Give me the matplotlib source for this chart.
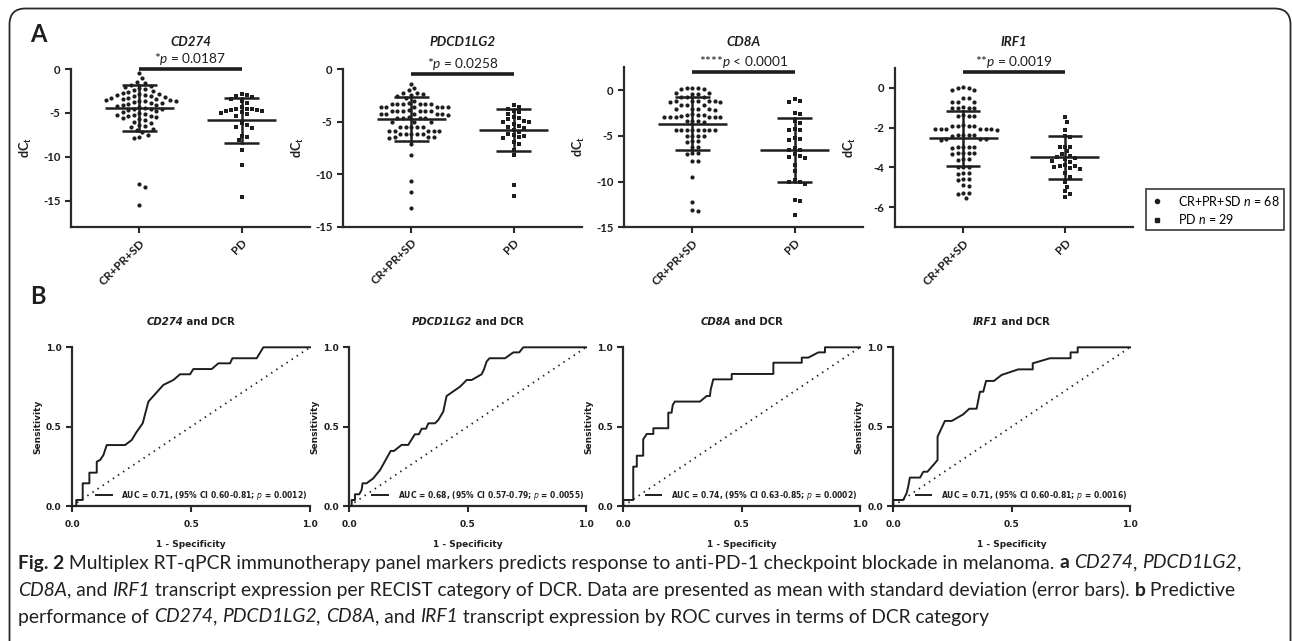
import numpy as np
import matplotlib
matplotlib.use("Agg")
import matplotlib.pyplot as plt
from matplotlib.patches import FancyBboxPatch
from matplotlib.lines import Line2D

plt.rcParams["font.family"] = ["Lato", "DejaVu Sans"]
plt.rcParams["mathtext.fontset"] = "custom"
plt.rcParams["mathtext.rm"] = "Lato"
plt.rcParams["mathtext.it"] = "Lato:italic"
plt.rcParams["mathtext.bf"] = "Lato:bold"

W, H = 1292, 641
INK = "#1e1e1e"

# ---------------- data ----------------
genes = ["CD274", "PDCD1LG2", "CD8A", "IRF1"]
groups = ["CR+PR+SD", "PD"]
p_stars = ["*", "*", "****", "**"]
p_text = ["= 0.0187", "= 0.0258", "< 0.0001", "= 0.0019"]

cd274_resp = [-0.5, -1.05, -1.5, -1.6, -1.8, -1.9, -2.0, -2.2, -2.3, -2.4,
              -2.6, -2.7, -2.8, -2.9, -3.0, -3.0, -3.1, -3.2, -3.3, -3.3,
              -3.4, -3.4, -3.5, -3.5, -3.6, -3.7, -3.8, -3.9, -3.9, -4.0,
              -4.1, -4.2, -4.3, -4.4, -4.5, -4.6, -4.7, -4.8, -4.9, -5.0,
              -5.1, -5.2, -5.3, -5.4, -5.6, -5.7, -5.8, -6.0, -6.2, -6.4,
              -6.5, -6.6, -6.8, -7.0, -7.2, -7.5, -7.8, -7.9,
              -2.5, -3.1, -3.6, -4.1, -4.6, -5.2, -5.5, -13.1, -13.4, -15.5]
cd274_pd = [-2.9, -3.0, -3.1, -3.2, -3.4, -3.7, -3.9, -4.3, -4.5, -4.6,
            -4.6, -4.7, -4.7, -4.8, -4.8, -4.9, -5.0, -5.1, -5.3, -6.2,
            -6.4, -6.6, -6.7, -7.6, -7.8, -8.1, -9.2, -10.9, -14.6]

pdcd_resp = [-1.4, -1.85, -2.0, -2.3, -2.3, -2.4, -2.5, -2.6, -2.8, -3.0,
             -3.25, -3.3, -3.3, -3.3, -3.3, -3.35, -3.3,
             -3.6, -3.6, -3.65, -3.6, -3.6, -3.6,
             -3.95, -3.95, -3.9, -4.0, -3.95, -3.95, -3.95,
             -4.3, -4.3, -4.3, -4.35, -4.3, -4.3,
             -4.65, -4.65, -4.6, -4.65, -4.65,
             -5.0, -5.0, -5.05,
             -5.5, -5.5, -5.5, -5.55, -5.5,
             -5.85, -5.85, -5.85, -5.9, -5.85,
             -6.15, -6.15, -6.2, -6.15, -6.15,
             -6.5, -6.5, -6.55, -6.5,
             -7.1, -8.2, -10.7, -11.7, -13.2]
pdcd_pd = [-3.4, -3.6, -3.8, -4.0, -4.1, -4.3, -4.6, -4.7, -4.8, -4.9,
           -5.0, -5.0, -5.2, -5.4, -5.5, -5.6, -5.8, -6.0, -6.2, -6.3,
           -6.4, -6.5, -6.6, -6.9, -7.1, -7.7, -8.2, -11.0, -12.1]

cd8a_resp = [0.25, 0.2, 0.2, 0.15, 0.1,
             -0.3, -0.3, -0.35, -0.4,
             -0.7, -0.75, -0.7,
             -1.2, -1.2, -1.25, -1.2, -1.15, -1.2, -1.25,
             -1.6, -1.6, -1.65,
             -2.1, -2.1, -2.05, -2.1, -2.15,
             -2.7, -2.7, -2.65, -2.7,
             -2.9, -2.9, -2.95, -2.9, -2.9, -2.85, -2.9,
             -3.4, -3.4, -3.45, -3.4,
             -4.35, -4.35, -4.3, -4.4, -4.35, -4.35, -4.3, -4.4,
             -5.0, -5.0, -5.05, -5.0,
             -5.6, -5.6, -5.65,
             -6.2, -6.2,
             -6.9, -6.85, -6.95,
             -7.8, -7.8,
             -9.55, -12.3, -13.1, -13.2]
cd8a_pd = [-0.9, -1.2, -1.3, -2.5, -2.6, -3.4, -3.6, -4.2, -4.3, -4.4,
           -5.2, -5.3, -5.5, -6.3, -6.5, -6.6, -7.2, -7.3, -7.4, -8.2,
           -8.9, -9.8, -10.0, -10.1, -10.3, -12.0, -12.1, -13.7, -7.0]

irf1_resp = [0.02, 0.0, -0.02, -0.1, -0.1,
             -0.5, -0.5, -0.7, -0.7, -0.72,
             -1.0, -1.0, -1.02, -1.0, -0.98,
             -1.4, -1.4, -1.42, -1.38,
             -1.9, -1.9, -1.88, -1.9, -1.92,
             -2.1, -2.1, -2.1, -2.12, -2.08, -2.1, -2.1,
             -2.4, -2.4, -2.42, -2.38, -2.4,
             -2.6, -2.6, -2.62, -2.6,
             -3.0, -3.0, -2.98, -3.0, -3.02,
             -3.3, -3.3, -3.32, -3.3, -3.28,
             -3.6, -3.6, -3.62,
             -4.0, -4.0, -3.98,
             -4.3, -4.3, -4.32,
             -4.6, -4.6, -4.62,
             -4.9, -4.92,
             -5.3, -5.3, -5.32, -5.55]
irf1_pd = [-1.46, -1.7, -2.13, -2.45, -2.5, -2.96, -2.98, -3.0, -3.2, -3.35,
           -3.45, -3.5, -3.55, -3.6, -3.7, -3.75, -3.9, -3.95, -3.95, -4.0,
           -4.05, -4.1, -4.3, -4.5, -4.72, -4.97, -5.2, -5.35, -5.48]

resp_vals = [cd274_resp, pdcd_resp, cd8a_resp, irf1_resp]
pd_vals = [cd274_pd, pdcd_pd, cd8a_pd, irf1_pd]
# mean and SD as drawn in the figure
resp_mean = [-4.45, -4.75, -3.65, -2.55]
resp_sd = [2.6, 2.1, 2.95, 1.38]
pd_mean = [-5.85, -5.8, -6.5, -3.5]
pd_sd = [2.55, 2.0, 3.5, 1.08]
n_resp, n_pd = 68, 29

# ROC curves (1 - specificity, sensitivity)
roc_fpr = [
    [0, 0.018, 0.018, 0.045, 0.045, 0.073, 0.073, 0.104, 0.104, 0.118, 0.132, 0.146, 0.223, 0.251,
     0.272, 0.297, 0.321, 0.384, 0.426, 0.454, 0.496, 0.51, 0.587, 0.615, 0.664, 0.674, 0.776, 0.804, 1.0],
    [0, 0.01, 0.01, 0.024, 0.024, 0.042, 0.052, 0.056, 0.073, 0.101, 0.13, 0.175, 0.189, 0.221, 0.249,
     0.277, 0.294, 0.306, 0.324, 0.334, 0.362, 0.376, 0.397, 0.411, 0.468, 0.496, 0.517, 0.559, 0.569,
     0.58, 0.592, 0.658, 0.693, 0.718, 0.735, 1.0],
    [0, 0, 0.042, 0.042, 0.057, 0.057, 0.084, 0.084, 0.099, 0.127, 0.127, 0.19, 0.19, 0.204, 0.209,
     0.218, 0.324, 0.352, 0.366, 0.369, 0.38, 0.458, 0.458, 0.634, 0.634, 0.754, 0.754, 0.782, 0.824,
     0.852, 0.852, 1.0],
    [0, 0, 0.042, 0.056, 0.063, 0.07, 0.113, 0.127, 0.144, 0.169, 0.187, 0.187, 0.218, 0.247, 0.296,
     0.321, 0.352, 0.366, 0.38, 0.392, 0.425, 0.458, 0.528, 0.589, 0.589, 0.662, 0.749, 0.749, 0.779,
     0.779, 1.0],
]
roc_tpr = [
    [0, 0, 0.038, 0.038, 0.143, 0.143, 0.21, 0.21, 0.279, 0.29, 0.321, 0.384, 0.384, 0.416,
     0.468, 0.521, 0.658, 0.763, 0.794, 0.83, 0.83, 0.863, 0.863, 0.899, 0.899, 0.931, 0.931, 1.0, 1.0],
    [0, 0, 0.038, 0.038, 0.074, 0.074, 0.101, 0.143, 0.143, 0.174, 0.227, 0.347, 0.347, 0.385, 0.385,
     0.452, 0.452, 0.487, 0.487, 0.521, 0.521, 0.542, 0.595, 0.693, 0.752, 0.794, 0.794, 0.83, 0.861,
     0.91, 0.931, 0.931, 0.968, 0.968, 1.0, 1.0],
    [0, 0.038, 0.038, 0.248, 0.248, 0.317, 0.317, 0.42, 0.454, 0.454, 0.49, 0.49, 0.588, 0.588, 0.637,
     0.658, 0.658, 0.693, 0.693, 0.731, 0.798, 0.798, 0.832, 0.832, 0.903, 0.903, 0.935, 0.935, 0.968,
     0.968, 1.0, 1.0],
    [0, 0.038, 0.038, 0.08, 0.122, 0.179, 0.179, 0.216, 0.216, 0.258, 0.29, 0.437, 0.536, 0.536, 0.578,
     0.613, 0.613, 0.72, 0.72, 0.788, 0.788, 0.826, 0.861, 0.861, 0.899, 0.931, 0.931, 0.968, 0.968,
     1.0, 1.0],
]
auc_text = [
    "AUC = 0.71, (95% CI 0.60-0.81; $\\mathit{p}$ = 0.0012)",
    "AUC = 0.68, (95% CI 0.57-0.79; $\\mathit{p}$ = 0.0055)",
    "AUC = 0.74, (95% CI 0.63-0.85; $\\mathit{p}$ = 0.0002)",
    "AUC = 0.71, (95% CI 0.60-0.81; $\\mathit{p}$ = 0.0016)",
]

# caption, as (text, style) runs: r regular, b bold, i italic
caption = [
    [("Fig. 2", "b"), (" Multiplex RT-qPCR immunotherapy panel markers predicts response to anti-PD-1 "
                       "checkpoint blockade in melanoma. ", "r"), ("a", "b"), (" ", "r"), ("CD274", "i"),
     (", ", "r"), ("PDCD1LG2", "i"), (",", "r")],
    [("CD8A", "i"), (", and ", "r"), ("IRF1", "i"),
     (" transcript expression per RECIST category of DCR. Data are presented as mean with standard "
      "deviation (error bars). ", "r"), ("b", "b"), (" Predictive", "r")],
    [("performance of ", "r"), ("CD274", "i"), (", ", "r"), ("PDCD1LG2", "i"), (", ", "r"), ("CD8A", "i"),
     (", and ", "r"), ("IRF1", "i"), (" transcript expression by ROC curves in terms of DCR category", "r")],
]

# ---------------- layout (pixels) ----------------
top_x = [(71, 310), (343, 582), (624, 863), (895, 1133)]
top_y = [(69, 227), (69, 226.7), (66.6, 227.1), (67.8, 227)]
top_ylim = [(-18, 0), (-15, 0), (-15, 2.6), (-7, 1)]
top_yticks = [[0, -5, -10, -15], [0, -5, -10, -15], [0, -5, -10, -15], [0, -2, -4, -6]]
bar_px = [69, 74, 72, 72]
roc_x = [(72, 310), (349.3, 586), (623.3, 860), (893.3, 1130)]
roc_y = (347.3, 506)

fig = plt.figure(figsize=(W / 100, H / 100), dpi=100)
renderer = fig.canvas.get_renderer()

bg = fig.add_axes([0, 0, 1, 1], zorder=-10)
bg.set_xlim(0, W)
bg.set_ylim(H, 0)
bg.axis("off")
bg.add_patch(FancyBboxPatch((9.5, 8.5), 1281, 660, boxstyle="round,pad=0,rounding_size=16",
                            fc="white", ec="#2a2a2a", lw=1.3))
bg.text(38, 34, "A", fontsize=17, fontweight="bold", ha="center", va="center", color=INK)
bg.text(38, 296, "B", fontsize=17, fontweight="bold", ha="center", va="center", color=INK)

STYLE = {"r": dict(), "b": dict(fontweight="bold"), "i": dict(fontstyle="italic"),
         "bi": dict(fontweight="bold", fontstyle="italic")}


def run_width(s, **kw):
    # width of a run including leading/trailing spaces
    a = bg.text(0, 0, "x" + s + "x", **kw)
    b = bg.text(0, 0, "xx", **kw)
    w = a.get_window_extent(renderer).width - b.get_window_extent(renderer).width
    a.remove()
    b.remove()
    return w


def draw_runs(x, y, runs, center=False, **kw):
    widths = [run_width(s, **STYLE[st], **kw) for s, st in runs]
    if center:
        x -= sum(widths) / 2
    for (s, st), w in zip(runs, widths):
        bg.text(x, y, s, ha="left", va="center", **STYLE[st], **kw)
        x += w


for i, line in enumerate(caption):
    draw_runs(18, 563 + 27 * i, line, fontsize=13.9, color="#231f20")


def px_axes(xr, yr):
    return fig.add_axes([xr[0] / W, 1 - yr[1] / H, (xr[1] - xr[0]) / W, (yr[1] - yr[0]) / H])


def swarm(vals, ppu_y, ppu_x, d=5.6):
    vals = np.asarray(vals, float)
    ypx = vals * ppu_y
    order = np.argsort(-vals, kind="stable")
    placed = []
    off = np.zeros(len(vals))
    for i in order:
        y = ypx[i]
        near = [(px, py) for px, py in placed if abs(py - y) < d]
        k = 0
        chosen = None
        while chosen is None:
            cands = [0.0] if k == 0 else [k * d / 2, -k * d / 2]
            for c in cands:
                if all((c - px) ** 2 + (y - py) ** 2 >= (0.97 * d) ** 2 for px, py in near):
                    chosen = c
                    break
            k += 1
        placed.append((chosen, y))
        off[i] = chosen / ppu_x
    return off


def style_spines(ax):
    for s in ["top", "right"]:
        ax.spines[s].set_visible(False)
    for s in ["left", "bottom"]:
        ax.spines[s].set_linewidth(1.6)
        ax.spines[s].set_color("#2a2a2a")
    ax.tick_params(width=1.5, length=4, color="#2a2a2a", direction="out")


# ---------------- panel A: scatter dot plots ----------------
xlim = (-0.67, 1.67)
for k in range(4):
    ax = px_axes(top_x[k], top_y[k])
    ax.set_xlim(*xlim)
    ax.set_ylim(*top_ylim[k])
    ax_w = top_x[k][1] - top_x[k][0]
    ax_h = top_y[k][1] - top_y[k][0]
    ppu_x = ax_w / (xlim[1] - xlim[0])
    ppu_y = ax_h / (top_ylim[k][1] - top_ylim[k][0])

    r = np.asarray(resp_vals[k])
    p = np.asarray(pd_vals[k])
    ax.scatter(0 + swarm(r, ppu_y, ppu_x), r, s=9, marker="o", color=INK, lw=0, zorder=2, clip_on=False)
    ax.scatter(1 + swarm(p, ppu_y, ppu_x, d=5.2), p, s=12, marker="s", color=INK, lw=0, zorder=2,
               clip_on=False)

    for xc, m, sd in [(0, resp_mean[k], resp_sd[k]), (1, pd_mean[k], pd_sd[k])]:
        ax.plot([xc - 0.34, xc + 0.34], [m, m], color=INK, lw=1.8, zorder=3, solid_capstyle="butt")
        ax.plot([xc - 0.17, xc + 0.17], [m + sd, m + sd], color=INK, lw=1.8, zorder=3, solid_capstyle="butt")
        ax.plot([xc - 0.17, xc + 0.17], [m - sd, m - sd], color=INK, lw=1.8, zorder=3, solid_capstyle="butt")
        ax.plot([xc, xc], [m - sd, m + sd], color=INK, lw=1.8, zorder=3)

    # significance bar
    yb = 1 - (bar_px[k] - top_y[k][0]) / ax_h
    tr = ax.get_xaxis_transform()
    ax.plot([0, 1], [yb, yb], color=INK, lw=2.6, transform=tr, clip_on=False, solid_capstyle="butt")
    ax.annotate(p_stars[k] + "$\\mathit{p}$ " + p_text[k], xy=(0.5, yb), xycoords=tr,
                xytext=(0, 1.5), textcoords="offset points", ha="center", va="bottom",
                fontsize=9.8, color=INK)
    ax.text(0.5, 1 + (top_y[k][0] - 42) / ax_h, genes[k], transform=ax.transAxes, ha="center",
            va="center", fontsize=9.6, fontweight="bold", fontstyle="italic", color=INK)

    style_spines(ax)
    ax.set_xticks([0, 1])
    ax.set_xticklabels(groups, rotation=45, ha="right", rotation_mode="anchor", fontsize=8.5,
                       fontweight="bold", color=INK)
    ax.set_yticks(top_yticks[k])
    ax.set_yticklabels([str(v) for v in top_yticks[k]], fontsize=8.2, fontweight="bold", color=INK)
    ax.set_ylabel(r"dC$_\mathbf{t}$", fontsize=9, fontweight="bold", color=INK)
    ax.yaxis.set_label_coords(-37 / ax_w, 0.5)

# legend for panel A
handles = [Line2D([], [], marker="o", ls="none", color=INK, ms=3),
           Line2D([], [], marker="s", ls="none", color=INK, ms=3)]
labels = [groups[0] + " $\\mathit{n}$ = %d" % n_resp, groups[1] + " $\\mathit{n}$ = %d" % n_pd]
leg = fig.legend(handles, labels, loc="upper left", bbox_to_anchor=(1140 / W, 1 - 183 / H),
                 fontsize=9, frameon=True, fancybox=False, edgecolor="#1a1a1a", borderpad=0.35,
                 handletextpad=1.2, handlelength=1.0, labelspacing=0.35)
leg.get_frame().set_linewidth(1.3)

# ---------------- panel B: ROC curves ----------------
dv = {"family": "DejaVu Sans", "weight": "bold"}
for k in range(4):
    ax = px_axes(roc_x[k], roc_y)
    ax.set_xlim(0, 1)
    ax.set_ylim(0, 1)
    line, = ax.plot(roc_fpr[k], roc_tpr[k], color=INK, lw=1.4, clip_on=False, zorder=3)
    ax.plot([0, 1], [0, 1], color=INK, lw=1.3, ls=(0, (0.8, 2.6)), zorder=2)
    style_spines(ax)
    ax.set_xticks([0, 0.5, 1.0])
    ax.set_yticks([0, 0.5, 1.0])
    ax.set_xticklabels(["0.0", "0.5", "1.0"], fontdict=dv, fontsize=6.5, color=INK)
    ax.set_yticklabels(["0.0", "0.5", "1.0"], fontdict=dv, fontsize=6.5, color=INK)
    ax.tick_params(axis="x", pad=6)
    ax.set_xlabel("1 - Specificity", fontdict=dv, fontsize=6.5, color=INK, labelpad=8)
    ax.set_ylabel("Sensitivity", fontdict=dv, fontsize=6.5, color=INK)
    ax.yaxis.set_label_coords(-30 / (roc_x[k][1] - roc_x[k][0]), 0.5)
    draw_runs((roc_x[k][0] + roc_x[k][1]) / 2, 322, [(genes[k], "bi"), (" and DCR", "b")], center=True,
              family="DejaVu Sans", fontsize=7.3, color=INK)
    lg = ax.legend([line], [auc_text[k]], loc="lower right", bbox_to_anchor=(1.02, -0.015), frameon=False,
                   prop={"family": "DejaVu Sans", "weight": "bold", "size": 5.5},
                   handlelength=2.0, handletextpad=1.3, borderpad=0.4)
    for tx in lg.get_texts():
        tx.set_math_fontfamily("dejavusans")
        tx.set_color(INK)

fig.savefig("out.png", dpi=100)
